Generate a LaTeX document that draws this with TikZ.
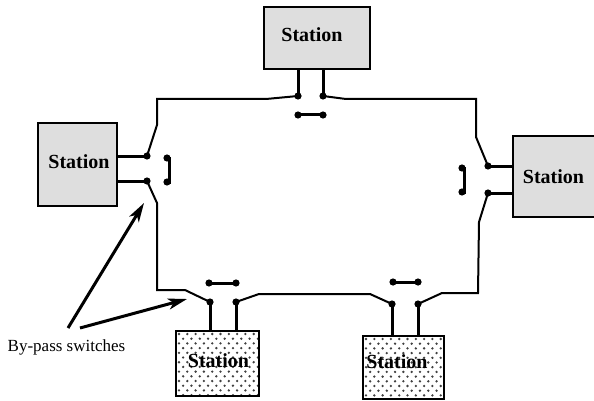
\documentclass[tikz,border=0pt]{standalone}
\usepackage{fontspec}
\setmainfont{Liberation Serif}
\usetikzlibrary{arrows.meta,calc}

\definecolor{stationgray}{gray}{0.87}

\tikzset{
	ring/.style={line width=2pt, line join=miter},
	stub/.style={line width=3pt},
	stationbox/.style={draw, line width=2.2pt, inner sep=0pt},
	graybox/.style={stationbox, fill=stationgray},
	dottedbox/.style={stationbox, fill=white, path picture={
		\foreach \r in {0,...,14} {
			\foreach \c in {0,...,11} {
				\fill[black!75] ($(path picture bounding box.north west)+({\c*8.3+mod(\r,2)*4.15+3},{\r*4.7+3})$) circle (1.3pt);
			}
		}
	}},
	stationname/.style={font=\bfseries\fontsize{20}{20}\selectfont, inner sep=0pt},
	pointer/.style={line width=3pt, -{Stealth[length=19pt,width=11pt,inset=5pt]}},
}

\begin{document}
\begin{tikzpicture}[x=1pt,y=-1pt]

	\useasboundingbox (0,0) rectangle (594,401);
	\clip (0,0) rectangle (594,401);

	% ---- stations

	\node[graybox, minimum width=106pt, minimum height=62pt] (stationtop) at (317,38) {};
	\node[graybox, minimum width=79pt, minimum height=83pt] (stationleft) at (77.5,164.5) {};
	\node[graybox, minimum width=90pt, minimum height=81pt] (stationright) at (558,176.5) {};
	\node[dottedbox, minimum width=83pt, minimum height=65pt] (stationlow) at (217.5,363.5) {};
	\node[dottedbox, minimum width=81pt, minimum height=63pt] (stationmid) at (403.5,367.5) {};

	\node[stationname] (nametop) at (312,35) {Station};
	\node[stationname] (nameleft) at (79,162) {Station};
	\node[stationname] (nameright) at (553.5,177) {Station};
	\node[stationname] (namelow) at (218.5,361) {Station};
	\node[stationname] (namemid) at (397,362) {Station};

	% ---- switch contacts

	\coordinate (T1) at (298,96);
	\coordinate (T2) at (323,96);
	\coordinate (T3) at (298,115);
	\coordinate (T4) at (323,115);

	\coordinate (L1) at (147,156);
	\coordinate (L2) at (147,181);
	\coordinate (L3) at (167,158);
	\coordinate (L4) at (167,182);

	\coordinate (R1) at (488,166);
	\coordinate (R2) at (488,193);
	\coordinate (R3) at (462,168);
	\coordinate (R4) at (462,192);

	\coordinate (A1) at (210,302);
	\coordinate (A2) at (236,302);
	\coordinate (A3) at (209,283);
	\coordinate (A4) at (236,283);

	\coordinate (B1) at (392,304);
	\coordinate (B2) at (418,304);
	\coordinate (B3) at (393,282);
	\coordinate (B4) at (418,282);

	% ---- ring

	\draw[ring] (T2) -- (346,99) -- (476,99) -- (476,137) -- (R1);
	\draw[ring] (R2) -- (479,222) -- (478,293) -- (442,293) -- (B2);
	\draw[ring] (B1) -- (370,294) -- (259,294) -- (A2);
	\draw[ring] (A1) -- (185,290) -- (157,290) -- (157,203) -- (L2);
	\draw[ring] (L1) -- (157,125) -- (157,99) -- (266,99) -- (T1);

	% ---- station stubs

	\draw[stub] (T1) -- (T1 |- stationtop.south);
	\draw[stub] (T2) -- (T2 |- stationtop.south);
	\draw[stub] (L1) -- (L1 -| stationleft.east);
	\draw[stub] (L2) -- (L2 -| stationleft.east);
	\draw[stub] (R1) -- (R1 -| stationright.west);
	\draw[stub] (R2) -- (R2 -| stationright.west);
	\draw[stub] (A1) -- (A1 |- stationlow.north);
	\draw[stub] (A2) -- (A2 |- stationlow.north);
	\draw[stub] (B1) -- (B1 |- stationmid.north);
	\draw[stub] (B2) -- (B2 |- stationmid.north);

	% ---- by-pass links

	\draw[stub] (T3) -- (T4);
	\draw[stub] (L3) -- (169,158) -- (169,182) -- (L4);
	\draw[stub] (R3) -- (464,168) -- (464,192) -- (R4);
	\draw[stub] (A3) -- (A4);
	\draw[stub] (B3) -- (B4);

	% ---- thick contacts

	\foreach \p in {T,L,R,A,B} {
		\foreach \i in {1,...,4} { \fill (\p\i) circle (3.6pt); }
	}

	% ---- by-pass label

	\node[font=\fontsize{17}{17}\selectfont, inner sep=0pt] (bypass) at (66.5,347) {By-pass switches};
	\coordinate (tipleft) at (144,203);
	\coordinate (tiplow) at (187,299);

	\draw[pointer] (68,328) -- (tipleft);
	\draw[pointer] (80,328) -- (tiplow);

\end{tikzpicture}
\end{document}
